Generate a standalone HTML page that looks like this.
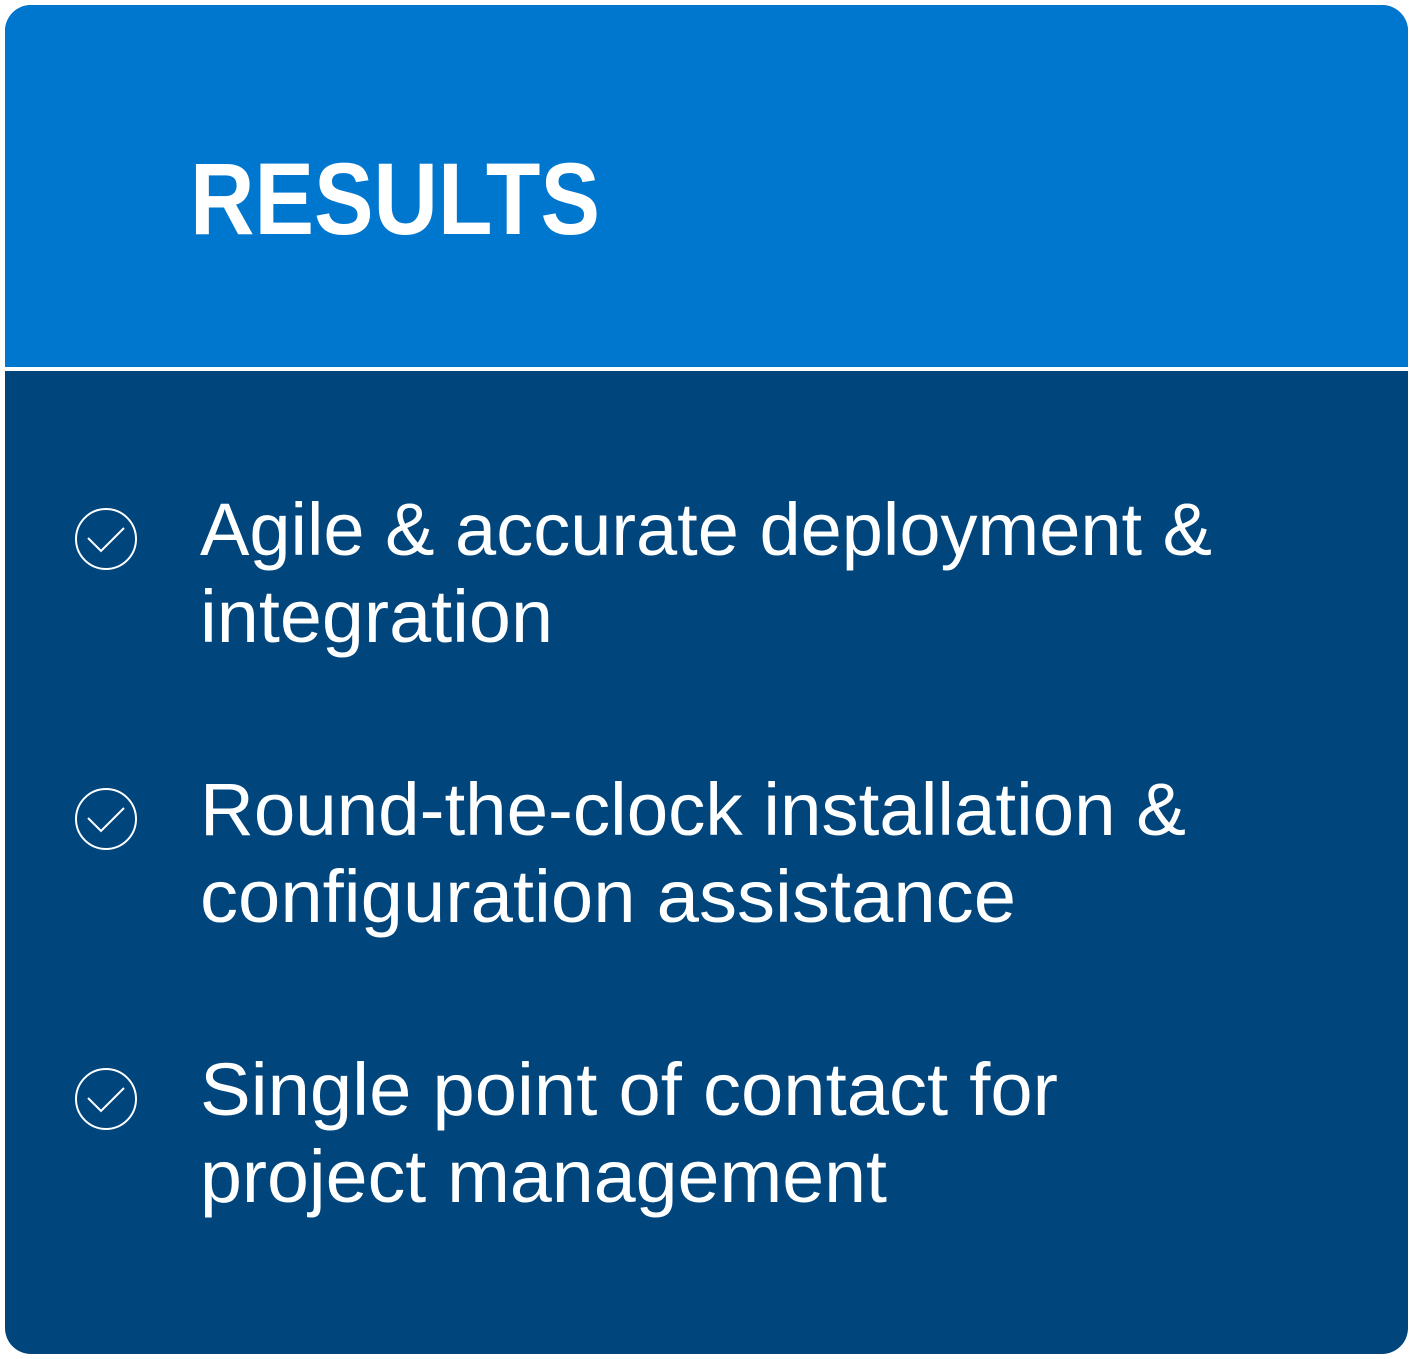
<!DOCTYPE html>
<html><head><meta charset="utf-8"><style>
html,body{margin:0;padding:0;background:#fff;}
svg{display:block;}
text{font-family:"Liberation Sans",Arial,sans-serif;fill:#fff;}
</style></head><body>
<svg width="1413" height="1359" viewBox="0 0 1413 1359" xmlns="http://www.w3.org/2000/svg">
<defs><clipPath id="c"><rect x="5" y="5" width="1403" height="1349" rx="26" ry="26"/></clipPath></defs>
<g clip-path="url(#c)">
<rect x="0" y="0" width="1413" height="1359" fill="#00457C"/>
<rect x="0" y="0" width="1413" height="367" fill="#0077CF"/>
<rect x="0" y="367" width="1413" height="4" fill="#ffffff"/>
</g>
<text x="190" y="234" font-size="102" font-weight="bold" textLength="410" lengthAdjust="spacingAndGlyphs">RESULTS</text>
<g fill="none" stroke="#fff" stroke-width="2">
<circle cx="106" cy="539" r="30"/><polyline points="88,538 101,551 124,528"/>
<circle cx="106" cy="819" r="30"/><polyline points="88,818 101,831 124,808"/>
<circle cx="106" cy="1099" r="30"/><polyline points="88,1098 101,1111 124,1088"/>
</g>
<g font-size="74">
<text x="200" y="555" textLength="1012" lengthAdjust="spacingAndGlyphs">Agile &amp; accurate deployment &amp;</text>
<text x="200" y="642" textLength="353" lengthAdjust="spacingAndGlyphs">integration</text>
<text x="200" y="835" textLength="986" lengthAdjust="spacingAndGlyphs">Round-the-clock installation &amp;</text>
<text x="200" y="922" textLength="816" lengthAdjust="spacingAndGlyphs">configuration assistance</text>
<text x="200" y="1115" textLength="858" lengthAdjust="spacingAndGlyphs">Single point of contact for</text>
<text x="200" y="1202" textLength="687" lengthAdjust="spacingAndGlyphs">project management</text>
</g>
</svg>
</body></html>
